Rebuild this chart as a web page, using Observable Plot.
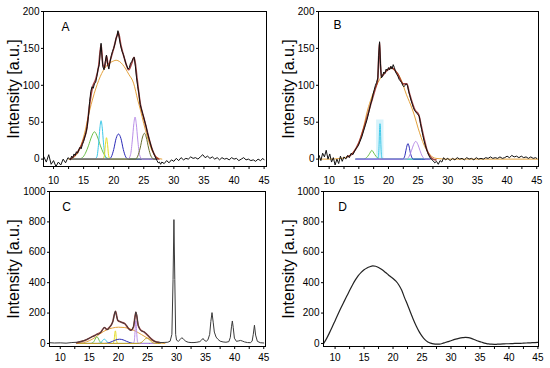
<!DOCTYPE html>
<html><head><meta charset="utf-8">
<script src="https://cdn.jsdelivr.net/npm/d3@7"></script>
<script src="https://cdn.jsdelivr.net/npm/@observablehq/plot@0.6"></script>
<style>
body{margin:0;background:#fff;}
#wrap{position:relative;width:550px;height:368px;overflow:hidden;background:#fff;font-family:"Liberation Sans",Arial,sans-serif;}
#wrap svg{position:absolute;overflow:visible;}
</style></head><body><div id="wrap"></div>
<script>
// ---- shared labels / ticks ----
const xTickLabels = [10,15,20,25,30,35,40,45];
const xMinorTicks = [10,12.5,15,17.5,20,22.5,25,27.5,30,32.5,35,37.5,40,42.5,45];
const yTicksAB = [0,50,100,150,200];
const yTicksCD = [0,200,400,600,800,1000];
const yTitle = "Intensity [a.u.]";
const panelLetters = ["A","B","C","D"];

// ---- Panel A ----
const aTheta = [8.4,8.8,9.2,9.6,10.0,10.4,10.8,11.2,11.6,12.0,12.4,12.8,13.0,13.2,13.4,13.6,13.8,14.0,14.2,14.4,14.6,14.8,15.0,15.2,15.4,15.6,15.8,16.0,16.2,16.4,16.6,16.8,17.0,17.2,17.4,17.6,17.8,17.9,18.0,18.2,18.4,18.6,18.8,19.0,19.2,19.4,19.6,19.8,20.0,20.2,20.4,20.6,20.7,20.8,21.0,21.2,21.4,21.6,21.8,22.0,22.2,22.4,22.6,22.8,23.0,23.2,23.4,23.6,23.8,24.0,24.2,24.4,24.6,24.8,25.0,25.2,25.4,25.6,25.8,26.0,26.2,26.4,26.6,26.8,27.0,27.2,27.4,27.6,27.8,28.0,28.4,28.8,29.2,29.6,30.0,30.4,30.8,31.2,31.6,32.0,32.4,32.8,33.2,33.6,34.0,34.4,34.8,35.2,35.6,36.0,36.4,36.8,37.2,37.6,38.0,38.4,38.8,39.2,39.6,40.0,40.4,40.8,41.2,41.6,42.0,42.4,42.8,43.2,43.6,44.0,44.4,44.8,45.0];
const aObs = [3,-4,6,-7,-2,-10,-4,-8,0,-5,2,-1,4,2,7,5,10,8,13,16,14,20,24,30,36,44,58,78,92,98,96,102,104,112,122,128,148,157,145,125,121,132,141,128,122,132,140,146,150,156,164,168,174,170,160,152,146,142,136,130,126,122,124,130,132,136,138,126,110,98,88,74,68,62,56,50,44,36,30,24,18,13,9,5,1,-2,-5,-4,-7,-4,-6,-2,-5,-1,-3,1,-2,2,-1,1,0,3,1,2,0,3,6,2,4,1,3,0,2,-1,2,0,1,-1,2,0,1,-2,0,2,-1,0,-2,-1,-3,0,-2,1,-1];
const aFitTheta = [12.8,13.5,14.2,15.0,15.5,16.0,16.5,17.0,17.5,17.9,18.2,18.5,18.8,19.1,19.5,20.0,20.5,20.75,21.2,21.8,22.5,23.0,23.4,23.9,24.4,25.0,25.5,26.0,26.5,27.0,27.5];
const aFit = [0,5,12,26,40,74,98,108,126,155,128,124,140,126,136,150,166,172,154,136,121,130,138,108,76,56,40,24,11,3,0];
const aOrangeX = [12.5,13.0,14.0,15.0,16.0,17.0,18.0,19.0,20.0,20.4,21.0,21.5,22.5,23.3,24.0,24.4,25.0,25.6,26.4,27.2,28.0];
const aOrangeY = [0,1,8,30,66,95,116,128,133,134,132,128,115,103,80,68,48,30,11,2,0];
const aGreenX = [12.9,14.2,14.8,15.3,15.8,16.3,16.8,17.3,17.8,18.3,18.8,19.4,27.2];
const aGreenY = [0,0,2,8,18,30,37,30,18,8,2,0,0];
const aCyanX = [12.9,16.8,17.2,17.5,17.7,17.9,18.1,18.3,18.6,19.0,27.2];
const aCyanY = [0,0,3,22,42,52,42,22,3,0,0];
const aYellowX = [12.9,18.2,18.45,18.6,18.8,19.0,19.15,19.4,27.2];
const aYellowY = [0,0,5,18,29,18,5,0,0];
const aBlueX = [12.9,19.2,19.6,20.0,20.4,20.8,21.2,21.6,22.0,22.4,27.2];
const aBlueY = [0,0,3,13,28,34,28,13,3,0,0];
const aVioletX = [12.9,22.4,22.8,23.1,23.35,23.55,23.75,24.0,24.3,24.7,27.2];
const aVioletY = [0,0,6,26,48,57,48,26,6,0,0];
const aOliveX = [12.9,23.6,24.0,24.4,24.8,25.1,25.4,25.8,26.2,26.7,27.2];
const aOliveY = [0,0,4,15,30,35,30,15,4,0,0];

// ---- Panel B ----
const bTheta = [8.3,8.6,8.9,9.2,9.5,9.8,10.1,10.4,10.7,11.0,11.3,11.6,11.9,12.2,12.5,12.8,13.1,13.4,13.7,14.0,14.3,14.6,14.9,15.2,15.5,15.8,16.1,16.4,16.7,17.0,17.2,17.4,17.6,17.8,18.0,18.2,18.35,18.5,18.65,18.8,19.0,19.2,19.4,19.6,19.8,20.0,20.2,20.4,20.6,20.8,21.0,21.2,21.4,21.6,21.8,22.0,22.2,22.4,22.6,22.8,23.0,23.2,23.4,23.6,23.8,24.0,24.2,24.4,24.6,24.8,25.0,25.2,25.4,25.6,25.8,26.0,26.2,26.4,26.6,26.8,27.0,27.2,27.5,27.8,28.1,28.4,28.7,29.0,29.3,29.6,30.0,30.4,30.8,31.2,31.6,32.0,32.4,32.8,33.2,33.6,34.0,34.4,34.8,35.2,35.6,36.0,36.4,36.8,37.2,37.6,38.0,38.4,38.8,39.2,39.6,40.0,40.4,40.8,41.2,41.6,42.0,42.4,42.8,43.2,43.6,44.0,44.4,44.8,45.0];
const bObs = [5,-2,8,3,12,0,7,-4,2,-8,0,-6,4,-3,3,0,5,2,8,6,11,15,18,24,30,38,46,54,64,75,80,88,94,100,104,110,140,159,130,110,112,118,116,122,120,124,121,126,122,128,124,118,115,112,108,106,104,100,98,100,102,100,92,86,80,75,70,66,64,62,60,58,48,40,32,25,19,14,9,5,2,0,-2,-5,-3,-7,-2,-4,2,-1,1,-2,1,-1,2,0,1,-1,2,0,1,-1,2,0,1,0,2,1,3,1,2,1,3,1,2,4,2,5,3,4,2,4,2,3,1,3,1,2,1];
const bFitTheta = [13.0,14.0,15.0,16.0,17.0,17.8,18.2,18.35,18.5,18.65,18.8,19.5,20.5,21.5,22.5,23.1,23.5,24.5,25.1,25.5,26.0,26.5,27.0,27.5,28.0];
const bFit = [3,8,22,46,74,96,108,138,158,128,112,118,124,116,102,102,90,66,60,46,28,12,4,0,-1];
const bOrangeX = [8.2,10,12,13,14,15,16,16.3,17,18,19,20,20.4,21,22,23,24,24.3,25,26,27,28,30,45.3];
const bOrangeY = [0,0,1,3,9,22,50,61,80,100,114,122,123,121,110,88,68,61,42,19,6,1,0,0];
const bGreenX = [14.5,15.8,16.3,16.7,17.0,17.2,17.4,17.7,18.1,18.5,27.0];
const bGreenY = [0,0,2,6,10,12,10,6,2,0,0];
const bCyanX = [14.5,18.1,18.3,18.42,18.5,18.57,18.65,18.72,18.85,19.0,27.0];
const bCyanY = [0,0,3,20,40,48,40,20,3,0,0];
const bBlueX = [14.5,22.4,22.7,22.95,23.15,23.28,23.45,23.65,23.9,24.2,27.0];
const bBlueY = [0,0,3,12,19,21,18,10,3,0,0];
const bVioletX = [14.5,23.0,23.5,23.9,24.25,24.6,24.95,25.3,25.7,26.3,27.0];
const bVioletY = [0,0,4,12,20,24,20,12,4,0,0];
const bHighlight = [{x1:18.0, x2:19.25, y1:0, y2:53}];

// ---- Panel C ----
const cTheta = [8.2,9,10,11,12,12.9,13.5,14,14.5,15,15.5,16,16.3,16.6,17,17.3,17.6,17.9,18.2,18.5,18.8,19.1,19.35,19.5,19.65,19.9,20.2,20.5,20.8,21.1,21.4,21.7,22.0,22.3,22.6,22.85,23.0,23.15,23.4,23.7,24.0,24.3,24.6,24.9,25.2,25.5,25.8,26.1,26.5,27,27.5,28,28.5,28.9,29.2,29.4,29.55,29.7,29.85,30.0,30.3,30.6,30.9,31.2,31.6,32,32.5,33,33.5,34,34.3,34.55,34.8,35.1,35.4,35.7,35.9,36.1,36.3,36.5,36.8,37.1,37.5,38,38.5,39,39.25,39.45,39.6,39.75,39.95,40.3,40.7,41.0,41.3,41.7,42.2,42.7,43.0,43.2,43.4,43.6,43.9,44.4,45.0];
const cObs = [5,3,4,2,6,8,12,18,25,35,45,52,62,60,75,92,108,95,90,108,122,150,200,214,185,150,145,140,135,130,120,100,85,90,110,170,208,190,120,92,82,78,72,60,48,35,25,17,10,7,6,7,8,15,60,420,815,420,60,22,14,25,38,28,14,8,6,6,8,12,22,33,20,14,24,60,145,203,140,75,42,28,15,10,8,12,40,110,148,105,35,14,17,20,16,10,6,5,15,60,120,55,14,5,3];
const cFitTheta = [12.8,13.5,14.5,15.5,16.3,17.0,17.6,18.0,18.5,19.0,19.5,19.9,20.5,21.1,21.7,22.2,22.6,23.0,23.4,23.8,24.4,25.0,25.6,26.2,27.0];
const cFit = [5,12,25,45,60,75,105,92,108,140,212,152,140,130,100,88,110,205,120,90,76,55,32,15,7];
const cOrangeX = [12.9,14,15,16,17,18,19,20,21,22,23,24,25,26,27,28];
const cOrangeY = [0,5,18,40,68,90,102,107,105,96,80,58,35,15,4,0];
const cGreenX = [12.9,15.2,15.6,15.9,16.1,16.3,16.5,16.7,17.0,17.4,27.2];
const cGreenY = [0,0,5,20,36,44,36,20,5,0,0];
const cCyanX = [12.9,16.4,16.9,17.2,17.4,17.57,17.75,17.95,18.25,18.7,27.2];
const cCyanY = [0,0,4,15,25,28,25,15,4,0,0];
const cYellowX = [12.9,19.0,19.2,19.32,19.4,19.47,19.55,19.62,19.75,19.95,27.2];
const cYellowY = [0,0,8,40,72,83,72,40,8,0,0];
const cBlueX = [12.9,17.6,18.4,19.0,19.6,20.2,20.8,21.4,22.0,22.8,27.2];
const cBlueY = [0,0,5,14,24,28,24,14,5,0,0];
const cVioletX = [12.9,22.5,22.7,22.85,22.93,23.0,23.07,23.15,23.3,23.5,27.2];
const cVioletY = [0,0,10,70,125,150,125,70,10,0,0];
const cOliveX = [12.9,23.4,23.9,24.3,24.6,24.9,25.2,25.5,25.9,26.4,27.2];
const cOliveY = [0,0,5,18,30,35,30,18,5,0,0];

// ---- Panel D ----
const dTheta = [8.0,8.5,9.0,9.5,10.0,10.5,11.0,11.5,12.0,12.5,13.0,13.5,14.0,14.5,15.0,15.5,16.0,16.5,17.0,17.5,18.0,18.5,19.0,19.5,20.0,20.5,21.0,21.5,22.0,22.5,23.0,23.5,24.0,24.5,25.0,25.5,26.0,26.5,27.0,27.5,28.0,28.5,29.0,29.5,30.0,30.5,31.0,31.5,32.0,32.5,33.0,33.5,34.0,34.5,35.0,35.5,36.0,36.5,37.0,37.5,38.0,38.5,39.0,39.5,40.0,40.5,41.0,41.5,42.0,42.5,43.0,43.5,44.0,44.5,45.0];
const dObs = [-2,30,68,108,150,192,233,272,310,348,385,418,446,468,485,497,505,510,508,500,488,474,458,442,428,410,385,350,300,255,205,158,115,78,48,25,10,2,-3,-5,-4,0,6,12,18,25,30,35,38,40,38,33,26,18,12,6,1,-3,-5,-6,-5,-4,-3,-2,-2,-1,0,0,1,2,3,4,5,6,7];

// ---- colours ----
const C = {obs:"#111111", obsC:"#3a3a3a", fit:"#8e1616", orange:"#e4a23c", green:"#6cc04a", cyan:"#3cc8e8",
  yellow:"#e4dc20", blue:"#2a2ab8", violet:"#b98ee8", olive:"#66702e", oliveC:"#c4a52c"};

function pts(xs, ys){ const n = Math.min(xs.length, ys.length); const out = []; for (let i = 0; i < n; i++) out.push({x: xs[i], y: ys[i]}); return out; }

const wrap = document.getElementById("wrap");
const FONT = '"Liberation Sans", Arial, sans-serif';

function makePanel(cfg){
  const marks = [];
  if (cfg.rects) marks.push(Plot.rect(cfg.rects, {x1:"x1", x2:"x2", y1:"y1", y2:"y2", fill:"#d8f3fb"}));
  for (const s of cfg.series) {
    marks.push(Plot.line(pts(s.x, s.y), {x:"x", y:"y", stroke:s.color, strokeWidth:s.w || 1, curve:s.curve || "linear", clip:true, strokeOpacity:s.op || 1}));
  }
  marks.push(Plot.frame({stroke:"#000", strokeWidth:1}));
  marks.push(Plot.axisX({ticks:xMinorTicks, tickSize:3, tickFormat:() => "", label:null}));
  marks.push(Plot.axisX({ticks:xTickLabels, tickSize:0, tickPadding:cfg.xPad, tickFormat:d => String(d), label:null, fontSize:10}));
  marks.push(Plot.axisY({ticks:cfg.yTicks, tickSize:2, tickPadding:2, tickFormat:d => String(d), label:null, fontSize:10}));
  marks.push(Plot.text([yTitle], {text:d => d, frameAnchor:"left", dx:13 - cfg.ml, rotate:-90, fontSize:16, textAnchor:"middle", lineAnchor:"middle", fill:"#000"}));
  marks.push(Plot.text([cfg.letter], {text:d => d, frameAnchor:"top-left", dx:cfg.lx, dy:cfg.ly, fontSize:12, textAnchor:"middle", lineAnchor:"middle", fill:"#000"}));
  const svg = Plot.plot({
    width:275, height:184,
    marginLeft:cfg.ml, marginRight:cfg.mr, marginTop:cfg.mt, marginBottom:cfg.mb,
    x:{domain:cfg.xd}, y:{domain:cfg.yd},
    style:{fontFamily:FONT, fontSize:"10px", background:"transparent", color:"#000"},
    marks
  });
  svg.style.left = cfg.left + "px";
  svg.style.top = cfg.top + "px";
  wrap.appendChild(svg);
}

const sm = "monotone-x";

makePanel({letter:panelLetters[0], left:0, top:0, ml:43, mr:9, mt:11, mb:18, xd:[8.33,45.4], yd:[-10,200], yTicks:yTicksAB, xPad:10, lx:22, ly:16,
  series:[
    {x:aOrangeX, y:aOrangeY, color:C.orange, curve:sm},
    {x:aGreenX, y:aGreenY, color:C.green, curve:sm},
    {x:aCyanX, y:aCyanY, color:C.cyan, curve:sm},
    {x:aYellowX, y:aYellowY, color:C.yellow, curve:sm},
    {x:aBlueX, y:aBlueY, color:C.blue, curve:sm},
    {x:aVioletX, y:aVioletY, color:C.violet, curve:sm},
    {x:aOliveX, y:aOliveY, color:C.olive, curve:sm},
    {x:aFitTheta, y:aFit, color:C.fit, w:1.6, curve:sm, op:0.8},
    {x:aTheta, y:aObs, color:C.obs, w:1}
  ]});

makePanel({letter:panelLetters[1], left:275, top:0, ml:43, mr:12, mt:11, mb:18, xd:[8.2,45.3], yd:[-10,200], yTicks:yTicksAB, xPad:10, lx:19, ly:14,
  rects:bHighlight,
  series:[
    {x:bOrangeX, y:bOrangeY, color:C.orange, curve:sm},
    {x:bGreenX, y:bGreenY, color:C.green, curve:sm},
    {x:bCyanX, y:bCyanY, color:C.cyan, curve:sm},
    {x:bBlueX, y:bBlueY, color:C.blue, curve:sm},
    {x:bVioletX, y:bVioletY, color:C.violet, curve:sm},
    {x:bFitTheta, y:bFit, color:C.fit, w:1.6, curve:sm, op:0.8},
    {x:bTheta, y:bObs, color:C.obs, w:1}
  ]});

makePanel({letter:panelLetters[2], left:0, top:184, ml:49, mr:10, mt:7, mb:22, xd:[8.15,45.3], yd:[-20,1000], yTicks:yTicksCD, xPad:7, lx:17, ly:16,
  series:[
    {x:cOrangeX, y:cOrangeY, color:C.orange, curve:sm},
    {x:cGreenX, y:cGreenY, color:C.green, curve:sm},
    {x:cCyanX, y:cCyanY, color:C.cyan, curve:sm},
    {x:cYellowX, y:cYellowY, color:C.yellow, curve:sm},
    {x:cBlueX, y:cBlueY, color:C.blue, curve:sm},
    {x:cVioletX, y:cVioletY, color:C.violet, curve:sm},
    {x:cOliveX, y:cOliveY, color:C.oliveC, curve:sm},
    {x:cFitTheta, y:cFit, color:C.fit, w:1.6, curve:sm, op:0.8},
    {x:cTheta, y:cObs, color:C.obsC, w:1}
  ]});

makePanel({letter:panelLetters[3], left:275, top:184, ml:48, mr:12, mt:7, mb:22, xd:[8.0,45.1], yd:[-20,1000], yTicks:yTicksCD, xPad:7, lx:19, ly:16,
  series:[
    {x:dTheta, y:dObs, color:"#222", w:1.2, curve:sm}
  ]});
</script>
</body></html>
